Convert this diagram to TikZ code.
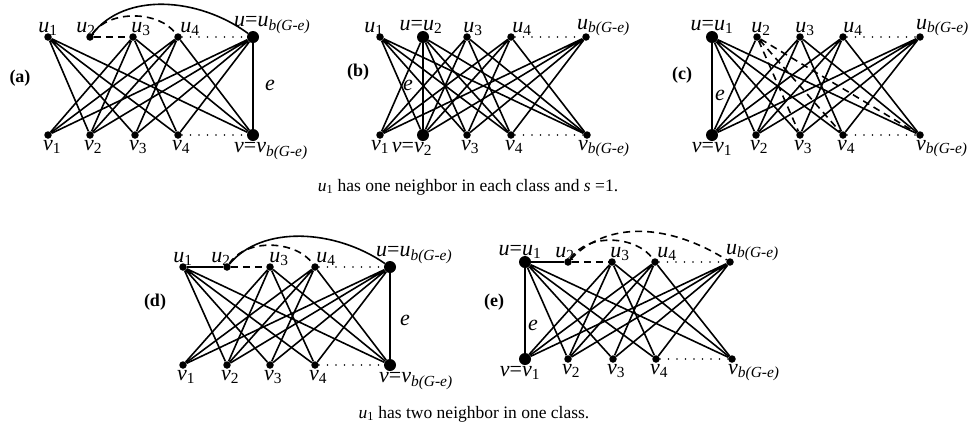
\documentclass[tikz,border=0pt]{standalone}
\usepackage{fontspec}
\setmainfont{Liberation Serif}
\usepackage{tikz}
\usetikzlibrary{positioning}
\newcommand{\uu}[1]{\textit{u}\textsubscript{#1}}
\newcommand{\vv}[1]{\textit{v}\textsubscript{#1}}
\newcommand{\bG}{\textit{b(G-e)}}
\tikzset{
  vtx/.style={circle,fill=black,inner sep=0pt,minimum size=7.5pt},
  bigvtx/.style={vtx,minimum size=12pt},
  lbl/.style={font=\fontsize{22}{24}\selectfont,inner sep=1pt},
  every label/.style={lbl},
  ul/.style 2 args={label={[label distance=-4pt,xshift=#1]above:#2}},
  vl/.style 2 args={label={[label distance=0pt,xshift=#1]below:#2}},
  ubl/.style 2 args={label={[label distance=-4pt,anchor=south west,xshift=#1]above:#2}},
  vbl/.style 2 args={label={[label distance=0pt,anchor=north west,xshift=#1]below:#2}},
  edge/.style={line width=1.6pt},
  dashedge/.style={line width=1.6pt,dash pattern=on 7pt off 5pt},
  dotedge/.style={line width=1.8pt,line cap=round,dash pattern=on 0pt off 8.5pt},
  tag/.style={font=\fontsize{18}{20}\selectfont\bfseries},
  caption/.style={font=\fontsize{17.5}{20}\selectfont}
}
\begin{document}
\begin{tikzpicture}[x=1pt,y=-1pt]
\useasboundingbox (0,0) rectangle (979,432);
% (a)
\node[vtx,ul={0pt}{\uu{1}}] (au1) at (48,37) {};
\node[vtx,ul={-4pt}{\uu{2}}] (au2) at (90,37) {};
\node[vtx,ul={8pt}{\uu{3}}] (au3) at (133,37) {};
\node[vtx,ul={12pt}{\uu{4}}] (au4) at (178,37) {};
\node[bigvtx,ubl={-20pt}{\textit{u}=\uu{\bG}}] (aub) at (253,37) {};
\node[vtx,vl={4pt}{\vv{1}}] (av1) at (48,135) {};
\node[vtx,vl={3pt}{\vv{2}}] (av2) at (90,135) {};
\node[vtx,vl={3pt}{\vv{3}}] (av3) at (135,135) {};
\node[vtx,vl={3pt}{\vv{4}}] (av4) at (178,135) {};
\node[bigvtx,vbl={-20pt}{\textit{v}=\vv{\bG}}] (avb) at (253,135) {};
\draw[edge] (au1)--(av2) (au1)--(av3) (au1)--(av4) (au1)--(avb);
\draw[edge] (au3)--(av1) (au3)--(av2) (au3)--(av4) (au3)--(avb);
\draw[edge] (au4)--(av1) (au4)--(av2) (au4)--(av3) (au4)--(avb);
\draw[edge] (aub)--(av1) (aub)--(av2) (aub)--(av3) (aub)--(av4) (aub)--(avb);
\draw[dotedge] (au4)--(aub) (av4)--(avb);
\draw[dashedge] (au2)--(au3);
\draw[dashedge] (au2) .. controls +(20,-28) and +(-18,-26) .. (au4);
\draw[edge] (au2) .. controls +(35,-45) and +(-55,-40) .. (aub);
\node[lbl] (ae) at (270,85) {\textit{e}};
\node[tag] (atag) at (20,78) {(a)};
% (b)
\node[vtx,ul={-6pt}{\uu{1}}] (bu1) at (380,37) {};
\node[bigvtx,ul={-2pt}{\textit{u}=\uu{2}}] (bu2) at (423,37) {};
\node[vtx,ul={6pt}{\uu{3}}] (bu3) at (467,37) {};
\node[vtx,ul={11pt}{\uu{4}}] (bu4) at (511,37) {};
\node[vtx,ubl={-10pt}{\uu{\bG}}] (bub) at (586,37) {};
\node[vtx,vl={0pt}{\vv{1}}] (bv1) at (380,135) {};
\node[bigvtx,vl={-11pt}{\textit{v}=\vv{2}}] (bv2) at (423,135) {};
\node[vtx,vl={3pt}{\vv{3}}] (bv3) at (467,135) {};
\node[vtx,vl={3pt}{\vv{4}}] (bv4) at (511,135) {};
\node[vtx,vbl={-10pt}{\vv{\bG}}] (bvb) at (587,135) {};
\draw[edge] (bu1)--(bv2) (bu1)--(bv3) (bu1)--(bv4) (bu1)--(bvb);
\draw[edge] (bu2)--(bv1) (bu2)--(bv2) (bu2)--(bv3) (bu2)--(bv4) (bu2)--(bvb);
\draw[edge] (bu3)--(bv1) (bu3)--(bv2) (bu3)--(bv4) (bu3)--(bvb);
\draw[edge] (bu4)--(bv1) (bu4)--(bv2) (bu4)--(bv3) (bu4)--(bvb);
\draw[edge] (bub)--(bv1) (bub)--(bv2) (bub)--(bv3) (bub)--(bv4);
\draw[dotedge] (bu4)--(bub) (bv4)--(bvb);
\node[lbl] (be) at (408,85) {\textit{e}};
\node[tag] (btag) at (358,72) {(b)};
% (c)
\node[bigvtx,ul={0pt}{\textit{u}=\uu{1}}] (cu1) at (712,37) {};
\node[vtx,ul={4pt}{\uu{2}}] (cu2) at (757,37) {};
\node[vtx,ul={5pt}{\uu{3}}] (cu3) at (800,37) {};
\node[vtx,ul={10pt}{\uu{4}}] (cu4) at (843,37) {};
\node[vtx,ubl={-5pt}{\uu{\bG}}] (cub) at (920,37) {};
\node[bigvtx,vl={0pt}{\textit{v}=\vv{1}}] (cv1) at (712,135) {};
\node[vtx,vl={3pt}{\vv{2}}] (cv2) at (756,135) {};
\node[vtx,vl={3pt}{\vv{3}}] (cv3) at (800,135) {};
\node[vtx,vl={3pt}{\vv{4}}] (cv4) at (843,135) {};
\node[vtx,vbl={-5pt}{\vv{\bG}}] (cvb) at (920,135) {};
\draw[edge] (cu1)--(cv1) (cu1)--(cv2) (cu1)--(cv3) (cu1)--(cv4) (cu1)--(cvb);
\draw[edge] (cu2)--(cv1);
\draw[dashedge] (cu2)--(cv3) (cu2)--(cv4) (cu2)--(cvb);
\draw[edge] (cu3)--(cv1) (cu3)--(cv2) (cu3)--(cv4) (cu3)--(cvb);
\draw[edge] (cu4)--(cv1) (cu4)--(cv2) (cu4)--(cv3) (cu4)--(cvb);
\draw[edge] (cub)--(cv1) (cub)--(cv2) (cub)--(cv3) (cub)--(cv4);
\draw[dotedge] (cu4)--(cub) (cv4)--(cvb);
\node[lbl] (ce) at (720,95) {\textit{e}};
\node[tag] (ctag) at (682,75) {(c)};
\node[caption] (cap1) at (468,187) {\uu{1} has one neighbor in each class and \textit{s} =1.};
% (d)
\node[vtx,ul={0pt}{\uu{1}}] (du1) at (183,267) {};
\node[vtx,ul={-6pt}{\uu{2}}] (du2) at (227,267) {};
\node[vtx,ul={9pt}{\uu{3}}] (du3) at (270,267) {};
\node[vtx,ul={11pt}{\uu{4}}] (du4) at (315,267) {};
\node[bigvtx,ubl={-15pt}{\textit{u}=\uu{\bG}}] (dub) at (390,267) {};
\node[vtx,vl={3pt}{\vv{1}}] (dv1) at (183,365) {};
\node[vtx,vl={3pt}{\vv{2}}] (dv2) at (227,365) {};
\node[vtx,vl={3pt}{\vv{3}}] (dv3) at (270,365) {};
\node[vtx,vl={3pt}{\vv{4}}] (dv4) at (315,365) {};
\node[bigvtx,vbl={-12pt}{\textit{v}=\vv{\bG}}] (dvb) at (390,365) {};
\draw[edge] (du1)--(du2);
\draw[edge] (du1)--(dv2) (du1)--(dv3) (du1)--(dv4) (du1)--(dvb);
\draw[edge] (du3)--(dv1) (du3)--(dv2) (du3)--(dv4) (du3)--(dvb);
\draw[edge] (du4)--(dv1) (du4)--(dv2) (du4)--(dv3) (du4)--(dvb);
\draw[edge] (dub)--(dv1) (dub)--(dv2) (dub)--(dv3) (dub)--(dv4) (dub)--(dvb);
\draw[dotedge] (du4)--(dub) (dv4)--(dvb);
\draw[dashedge] (du2)--(du3);
\draw[dashedge] (du2) .. controls +(20,-30) and +(-18,-26) .. (du4);
\draw[edge] (du2) .. controls +(35,-42) and +(-55,-38) .. (dub);
\node[lbl] (de) at (405,320) {\textit{e}};
\node[tag] (dtag) at (155,302) {(d)};
% (e)
\node[bigvtx,ul={-5pt}{\textit{u}=\uu{1}}] (eu1) at (525,262) {};
\node[vtx,ul={-3pt}{\uu{2}}] (eu2) at (568,262) {};
\node[vtx,ul={8pt}{\uu{3}}] (eu3) at (612,262) {};
\node[vtx,ul={12pt}{\uu{4}}] (eu4) at (655,262) {};
\node[vtx,ubl={-5pt}{\uu{\bG}}] (eub) at (730,262) {};
\node[bigvtx,vl={-5pt}{\textit{v}=\vv{1}}] (ev1) at (525,359) {};
\node[vtx,vl={3pt}{\vv{2}}] (ev2) at (568,359) {};
\node[vtx,vl={3pt}{\vv{3}}] (ev3) at (613,359) {};
\node[vtx,vl={3pt}{\vv{4}}] (ev4) at (656,359) {};
\node[vtx,vbl={-5pt}{\vv{\bG}}] (evb) at (732,359) {};
\draw[edge] (eu1)--(eu2);
\draw[edge] (eu1)--(ev1) (eu1)--(ev2) (eu1)--(ev3) (eu1)--(ev4) (eu1)--(evb);
\draw[edge] (eu3)--(ev1) (eu3)--(ev2) (eu3)--(ev4) (eu3)--(evb);
\draw[edge] (eu4)--(ev1) (eu4)--(ev2) (eu4)--(ev3) (eu4)--(evb);
\draw[edge] (eub)--(ev1) (eub)--(ev2) (eub)--(ev3) (eub)--(ev4);
\draw[dotedge] (eu4)--(eub) (ev4)--(evb);
\draw[dashedge] (eu2)--(eu3);
\draw[dashedge] (eu2) .. controls +(20,-30) and +(-18,-26) .. (eu4);
\draw[dashedge] (eu2) .. controls +(40,-42) and +(-60,-38) .. (eub);
\node[lbl] (ee) at (533,325) {\textit{e}};
\node[tag] (etag) at (494,302) {(e)};
\node[caption] (cap2) at (474,414) {\uu{1} has two neighbor in one class.};
\end{tikzpicture}
\end{document}
